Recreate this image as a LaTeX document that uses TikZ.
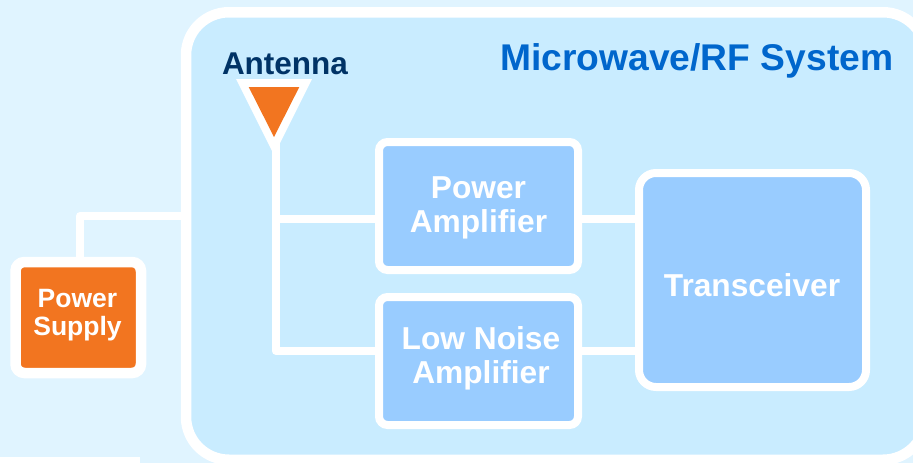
\documentclass[tikz,border=0pt]{standalone}
\usepackage{fontspec}
\setmainfont{Liberation Sans}
\definecolor{bgblue}{HTML}{E0F4FF}
\definecolor{sysblue}{HTML}{C9ECFF}
\definecolor{boxblue}{HTML}{99CCFF}
\definecolor{orng}{HTML}{F27520}
\definecolor{titleblue}{HTML}{0066CC}
\definecolor{navy}{HTML}{003366}
\tikzset{
  wire/.style={draw=white,line width=8pt,line join=round,line cap=butt},
  blockbox/.style={draw=white,line width=8pt,fill=boxblue,rounded corners=8.5pt,inner sep=0pt},
  blocktext/.style={align=center,text=white,font=\bfseries\fontsize{31.7}{34}\selectfont,inner sep=0pt},
  psbox/.style={draw=white,line width=10.5pt,fill=orng,rounded corners=9pt,inner sep=0pt},
  pstext/.style={align=center,text=white,font=\bfseries\fontsize{26.5}{28}\selectfont,inner sep=0pt},
  sysbox/.style={draw=white,line width=10.5pt,fill=sysblue,rounded corners=43pt,inner sep=0pt},
}
\begin{document}
\begin{tikzpicture}[x=1pt,y=-1pt]
\useasboundingbox (0,0) rectangle (913,463);
\clip (0,0) rectangle (913,463);
\fill[bgblue] (0,0) rectangle (913,463);
\fill[white] (0,457) rectangle (140,463);
\node[sysbox,minimum width=740pt,minimum height=447.5pt] (sys) at (556,236) {};
\node[blockbox,minimum width=199pt,minimum height=128pt] (pa) at (478.5,206) {};
\node[blockbox,minimum width=199pt,minimum height=128pt] (lna) at (478.5,361) {};
\node[blockbox,rounded corners=17pt,minimum width=227pt,minimum height=214pt] (trx) at (752.5,280) {};
\node[psbox,minimum width=125.5pt,minimum height=111pt] (ps) at (78.25,317.5) {};
\coordinate (ant) at (275.8,143);
\draw[wire] (ant) |- ([xshift=2pt,yshift=-13pt]pa.west);
\draw[wire] (ant) |- ([xshift=2pt,yshift=10pt]lna.west);
\draw[wire] ([xshift=-2pt,yshift=-13pt]pa.east) -- ([xshift=2pt,yshift=61pt]trx.west);
\draw[wire] ([xshift=-2pt,yshift=10pt]lna.east) -- ([xshift=2pt,yshift=-71pt]trx.west);
\draw[wire] ([xshift=1.75pt,yshift=-2pt]ps.north) |- ([xshift=2pt,yshift=20pt]sys.west);
\fill[white] (236,79) -- (312,79) -- (274,155) -- cycle;
\fill[orng] (248.7,87) -- (299.3,87) -- (274,137) -- cycle;
\node[blocktext] (palabel) at (478.5,208) {Power\hspace{8pt}\\Amplifier};
\node[blocktext] (lnalabel) at (481,358) {Low Noise\\Amplifier};
\node[blocktext] (trxlabel) at (752,285) {Transceiver};
\node[pstext] (pslabel) at (77.5,315.5) {Power\\Supply};
\node[text=navy,font=\bfseries\fontsize{31.5}{36}\selectfont,inner sep=0pt] (antlabel) at (285,63.5) {Antenna};
\node[text=titleblue,font=\bfseries\fontsize{37.2}{40}\selectfont,inner sep=0pt] (title) at (696.8,60.5) {Microwave/RF System};
\end{tikzpicture}
\end{document}
